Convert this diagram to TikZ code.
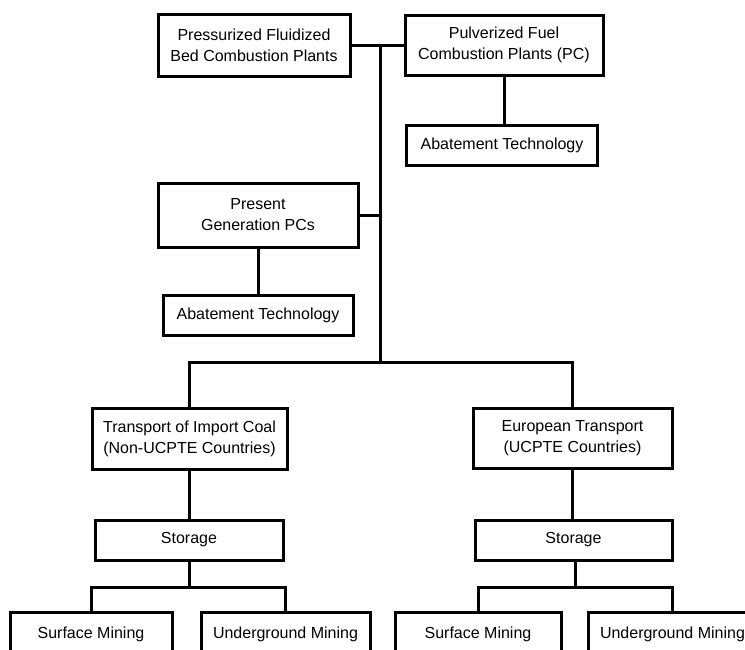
\documentclass[tikz,border=0pt]{standalone}
\usepackage{fontspec}
\setmainfont{Liberation Sans}
\usepackage{tikz}

\begin{document}
\begin{tikzpicture}[x=1pt,y=-1pt]
\tikzstyle{every node}+=[inner sep=0pt]
\tikzset{box/.style={draw=black,line width=3pt,rectangle,align=center,
  font=\fontsize{16}{21}\selectfont},
  link/.style={black,line width=3pt}}
\useasboundingbox (0,0) rectangle (745,649);
\clip (0,0) rectangle (745,649);
\node [box,minimum width=192pt,minimum height=62pt] (pfbc) at (254,45) {Pressurized Fluidized\\Bed Combustion Plants};
\node [box,minimum width=198pt,minimum height=60pt] (pc) at (504,45) {Pulverized Fuel\\Combustion Plants (PC)};
\node [box,minimum width=191pt,minimum height=40pt] (abateA) at (502,145) {Abatement Technology};
\node [box,minimum width=200pt,minimum height=64pt] (present) at (258,215) {Present\\Generation PCs};
\node [box,minimum width=190pt,minimum height=40pt] (abateB) at (258,315) {Abatement Technology};
\node [box,minimum width=195pt,minimum height=61pt] (import) at (189.5,438.5) {Transport of Import Coal\\(Non-UCPTE Countries)};
\node [box,minimum width=199pt,minimum height=60pt] (europe) at (572.5,438) {European Transport\\(UCPTE Countries)};
\node [box,minimum width=188pt,minimum height=40pt] (storeA) at (189,540) {Storage};
\node [box,minimum width=197pt,minimum height=40pt] (storeB) at (573.5,540) {Storage};
\node [box,anchor=north,minimum width=162pt,minimum height=44pt] (surfA) at (91,611) {Surface Mining};
\node [box,anchor=north,minimum width=169pt,minimum height=44pt] (undA) at (285.5,611) {Underground Mining};
\node [box,anchor=north,minimum width=166pt,minimum height=44pt] (surfB) at (478,611) {Surface Mining};
\node [box,anchor=north,minimum width=169pt,minimum height=44pt] (undB) at (672.5,611) {Underground Mining};
\coordinate (top) at (380,45);
\coordinate (fork) at (380,362);
\coordinate (splitA) at (189,587);
\coordinate (splitB) at (575,587);
\draw [link] (pfbc.east) -- (pc.west);
\draw [link] (top) -- (fork);
\draw [link] (pc.south) -- (pc.south |- abateA.north);
\draw [link] (present.east) -- (present.east -| fork);
\draw [link] (present.south) -- (abateB.north);
\draw [link] (import.north) |- (fork) -| (europe.north);
\draw [link] (import.south) -- (import.south |- storeA.north);
\draw [link] (europe.south) -- (europe.south |- storeB.north);
\draw [link] (splitA |- storeA.south) -- (splitA);
\draw [link] (surfA.north) |- (splitA) -| (undA.north);
\draw [link] (splitB |- storeB.south) -- (splitB);
\draw [link] (surfB.north) |- (splitB) -| (undB.north);
\end{tikzpicture}
\end{document}
